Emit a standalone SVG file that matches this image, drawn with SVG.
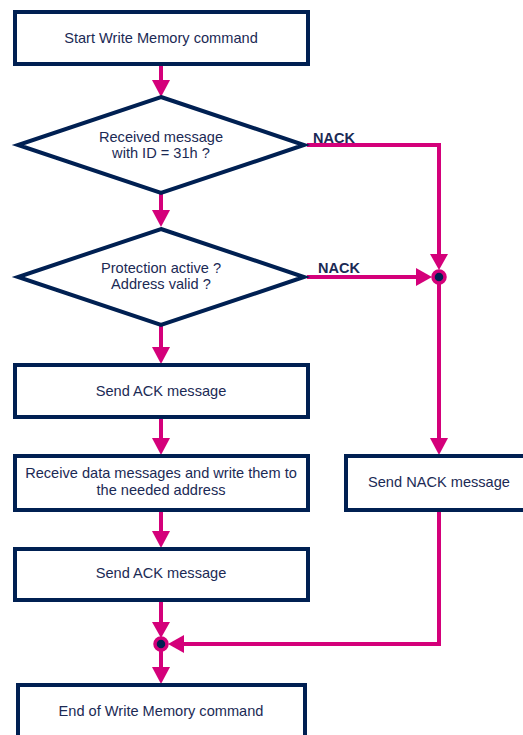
<svg xmlns="http://www.w3.org/2000/svg" width="523" height="735" viewBox="0 0 523 735">
<style>
.box{fill:#fff;stroke:#002052;stroke-width:4}
.dia{fill:#fff;stroke:#002052;stroke-width:4;stroke-linejoin:miter;stroke-miterlimit:6}
.t{font-family:"Liberation Sans",Arial,sans-serif;font-size:14.6px;fill:#1b2a55;text-anchor:middle}
.lbl{font-family:"Liberation Sans",Arial,sans-serif;font-size:14.5px;font-weight:bold;fill:#1b2a55}
.ln{fill:none;stroke:#d4007a;stroke-width:4}
.ah{fill:#d4007a}
</style>
<g id="connectors">
  <path class="ln" d="M161,66 V82"/>
  <polygon class="ah" points="152,80 170,80 161,97"/>
  <path class="ln" d="M161,193 V212"/>
  <polygon class="ah" points="152,210 170,210 161,227"/>
  <path class="ln" d="M161,326 V349"/>
  <polygon class="ah" points="152,347 170,347 161,364"/>
  <path class="ln" d="M161,419 V440"/>
  <polygon class="ah" points="152,438 170,438 161,455"/>
  <path class="ln" d="M161,512 V533"/>
  <polygon class="ah" points="152,531 170,531 161,548"/>
  <path class="ln" d="M161,602 V624"/>
  <polygon class="ah" points="152,622 170,622 161,638"/>
  <path class="ln" d="M161,650 V669"/>
  <polygon class="ah" points="152,667 170,667 161,684"/>
  <path class="ln" d="M307,145 H439 V256"/>
  <polygon class="ah" points="430,254 448,254 439,270"/>
  <path class="ln" d="M307,277 H418"/>
  <polygon class="ah" points="416,268 416,286 432,277"/>
  <path class="ln" d="M439,277 V440"/>
  <polygon class="ah" points="430,438 448,438 439,455"/>
  <path class="ln" d="M439,512 V644 H182"/>
  <polygon class="ah" points="184,635 184,653 168,644"/>
  <circle cx="439" cy="277" r="6" fill="#002052" stroke="#d4007a" stroke-width="3.5"/>
  <circle cx="161" cy="644" r="6" fill="#002052" stroke="#d4007a" stroke-width="3.5"/>
  <text class="lbl" x="313" y="143">NACK</text>
  <text class="lbl" x="318" y="273">NACK</text>
</g>
<g id="start">
  <rect class="box" x="15" y="12" width="293" height="52"/>
  <text class="t" x="161" y="43">Start Write Memory command</text>
</g>
<g id="check-id">
  <polygon class="dia" points="161,97 304,145 161,193 18,145"/>
  <text class="t" x="161" y="142">Received message</text>
  <text class="t" x="161" y="158">with ID = 31h ?</text>
</g>
<g id="check-protection">
  <polygon class="dia" points="161,229 304,277 161,325 18,277"/>
  <text class="t" x="161" y="273">Protection active ?</text>
  <text class="t" x="161" y="289">Address valid ?</text>
</g>
<g id="send-ack-1">
  <rect class="box" x="15" y="365" width="293" height="52"/>
  <text class="t" x="161" y="396">Send ACK message</text>
</g>
<g id="receive-data">
  <rect class="box" x="15" y="456" width="293" height="54"/>
  <text class="t" x="161" y="478">Receive data messages and write them to</text>
  <text class="t" x="161" y="495">the needed address</text>
</g>
<g id="send-ack-2">
  <rect class="box" x="15" y="549" width="293" height="51"/>
  <text class="t" x="161" y="578">Send ACK message</text>
</g>
<g id="send-nack">
  <rect class="box" x="346" y="456" width="190" height="54"/>
  <text class="t" x="439" y="487">Send NACK message</text>
</g>
<g id="end">
  <rect class="box" x="18" y="685" width="287" height="60"/>
  <text class="t" x="161" y="716">End of Write Memory command</text>
</g>
</svg>
